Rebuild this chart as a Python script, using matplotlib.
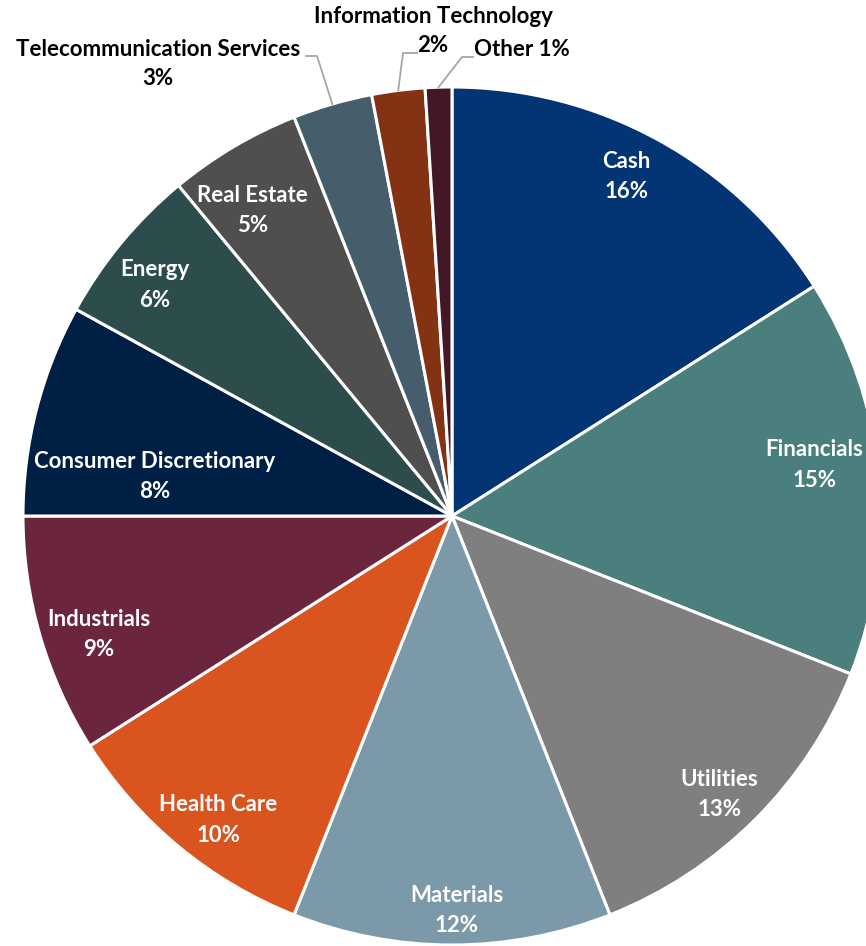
import matplotlib.pyplot as plt
import numpy as np

plt.rcParams['font.family'] = ['Lato', 'DejaVu Sans']

sectors = ["Cash", "Financials", "Utilities", "Materials", "Health Care", "Industrials",
           "Consumer Discretionary", "Energy", "Real Estate", "Telecommunication Services",
           "Information Technology", "Other"]
weights = [16, 15, 13, 12, 10, 9, 8, 6, 5, 3, 2, 1]
colors = ["#033474", "#4A7F7D", "#7F7F7F", "#7B99A9", "#DA541F", "#6B263D",
          "#001F45", "#2C4D4C", "#4F4F4F", "#465D6B", "#833214", "#431726"]

# inside label placement: fraction of radius and angle nudge (deg)
label_r = [0.89, 0.853, 0.90, 0.92, 0.894, 0.868, 0.70, 0.877, 0.85]
label_dth = [1.6, 2.6, -1.1, 0.7, 2.0, 2.4, 6.9, 1.7, 2.5]

W, H = 866, 946
fig = plt.figure(figsize=(W / 100, H / 100), dpi=100)
ax = fig.add_axes([0, 0, 1, 1])
cx, cy, R = 452, H - 516, 429

wedges, _ = ax.pie(weights, colors=colors, startangle=90, counterclock=False,
                   center=(cx, cy), radius=R, frame=True,
                   wedgeprops=dict(edgecolor="white", linewidth=2.2))
ax.set_xlim(0, W)
ax.set_ylim(0, H)
ax.set_aspect("equal")
ax.axis("off")

for i, w in enumerate(wedges[:9]):
    th = np.radians((w.theta1 + w.theta2) / 2 + label_dth[i])
    x = cx + label_r[i] * R * np.cos(th)
    y = cy + label_r[i] * R * np.sin(th)
    ax.text(x, y, f"{sectors[i]}\n{weights[i]}%", ha="center", va="center",
            color="white", fontsize=16, fontweight="bold", linespacing=1.55)

# outside labels with leader lines (pixels from top)
outside = {
    9: dict(lines=[("Telecommunication Services", 158, 50), ("3%", 158, 79)],
            elbow=(317, 56), end=(306, 56)),
    10: dict(lines=[("Information Technology", 433, 17), ("2%", 433, 46)],
             elbow=(403, 53), end=(417, 53)),
    11: dict(lines=[("Other 1%", 522, 50)], elbow=(462, 57), end=(473, 57)),
}
for i, o in outside.items():
    w = wedges[i]
    th = np.radians((w.theta1 + w.theta2) / 2)
    sx, sy = cx + R * np.cos(th), cy + R * np.sin(th)
    ax.plot([sx, o["elbow"][0], o["end"][0]], [sy, H - o["elbow"][1], H - o["end"][1]],
            color="#A6A6A6", lw=1.3)
    for txt, tx, ty in o["lines"]:
        ax.text(tx, H - ty, txt, ha="center", va="center",
                color="black", fontsize=16, fontweight="bold")

fig.savefig("out.png", dpi=100)
